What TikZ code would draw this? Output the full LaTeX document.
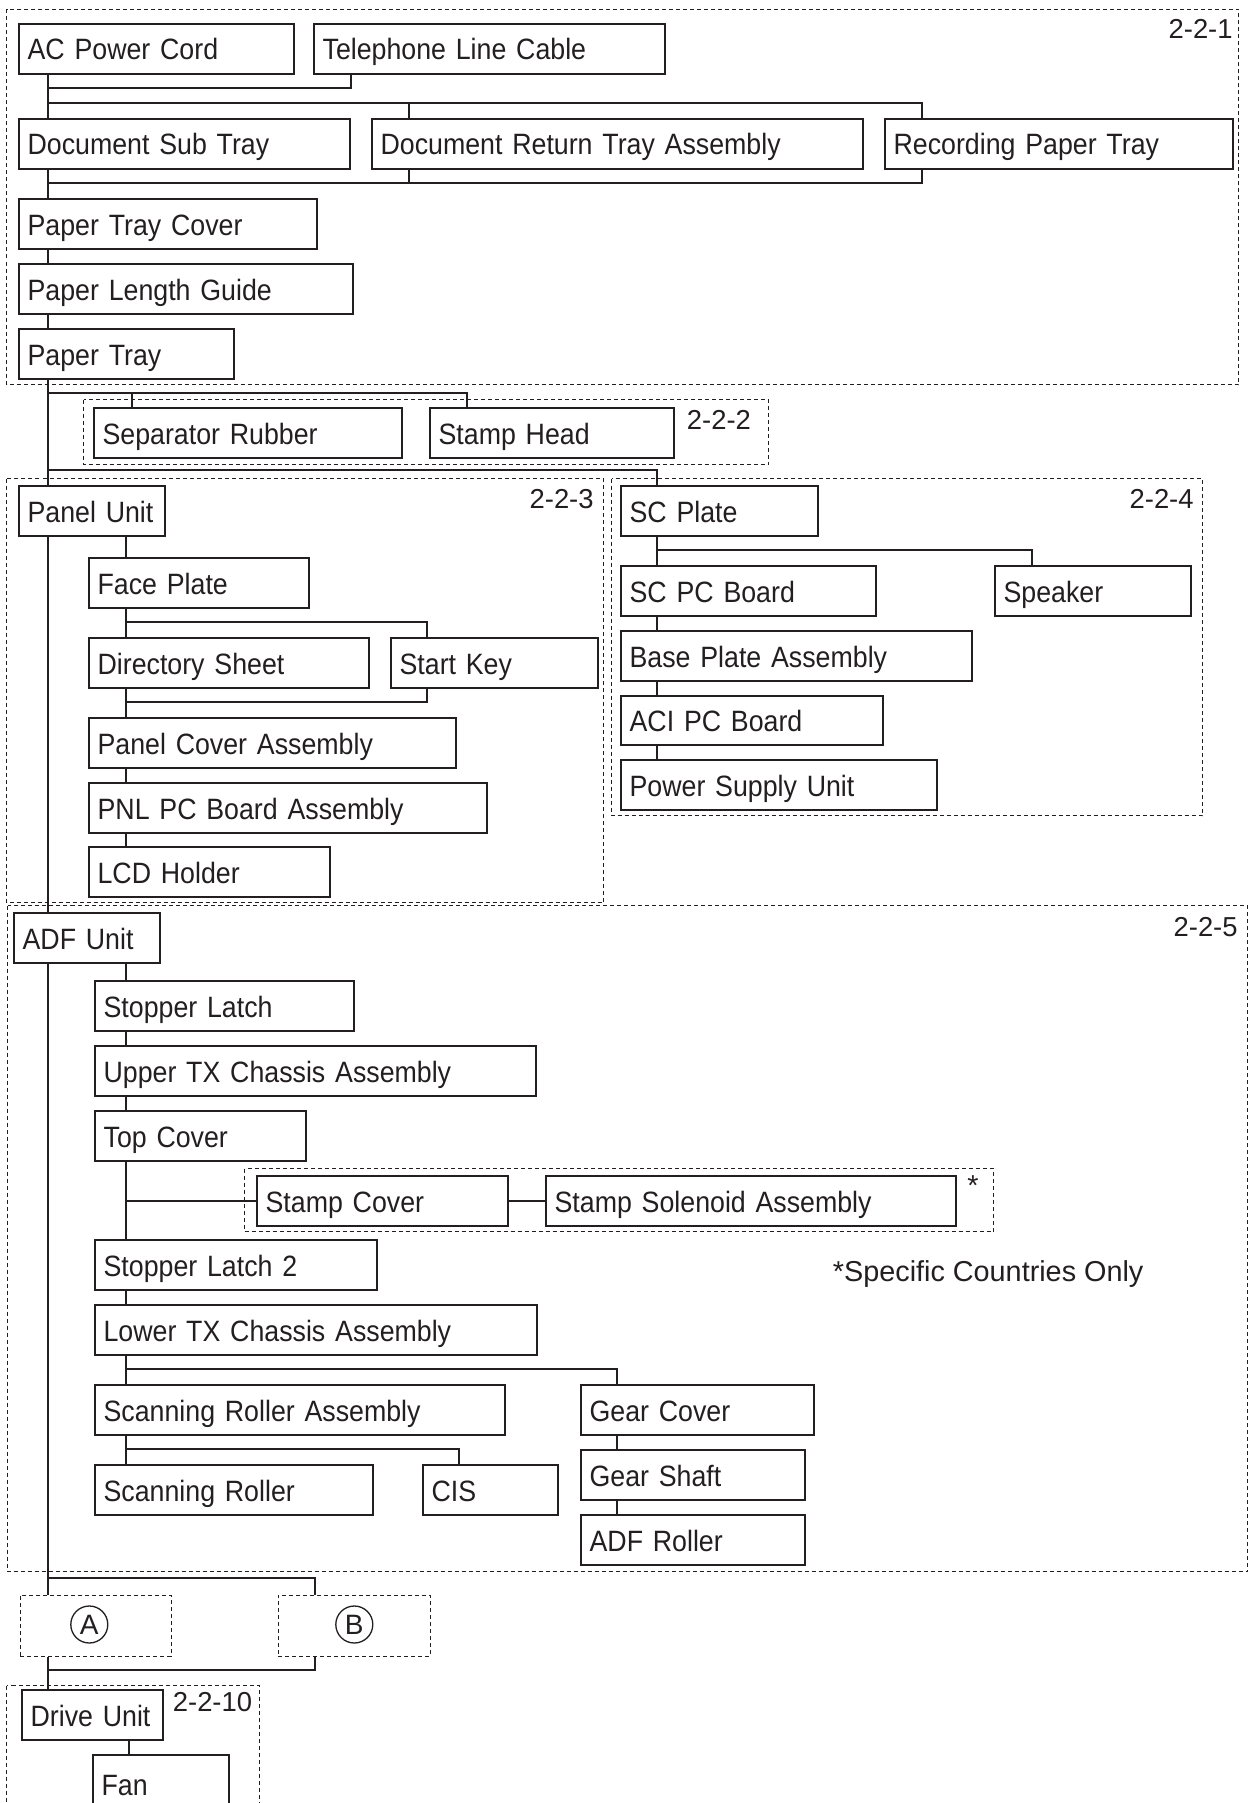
\documentclass[tikz,border=0pt]{standalone}
\usepackage{fontspec}
\setmainfont{Liberation Sans}
\newfontfamily\boxfont{Liberation Sans}[FakeStretch=0.91]
\definecolor{ink}{HTML}{231F20}
\tikzset{
  partbox/.style={draw=ink, line width=1pt, fill=white, anchor=north west,
    inner xsep=4.3pt, inner ysep=0pt, align=left, text=ink,
    font=\boxfont\fontsize{14.7pt}{16pt}\selectfont, text height=11pt, text depth=0pt},
  conn/.style={draw=ink, line width=1pt},
  grp/.style={draw=ink, line width=0.5pt, dash pattern=on 2pt off 1.5pt},
  grplabel/.style={inner sep=0pt, text=ink, font=\fontsize{13.7pt}{15pt}\selectfont},
  notetext/.style={inner sep=0pt, text=ink, font=\fontsize{14.4pt}{16pt}\selectfont},
  letter/.style={circle, draw=ink, line width=0.65pt, minimum size=18.5pt, inner sep=0pt,
    text=ink, font=\fontsize{14pt}{15pt}\selectfont},
}
\newcommand\partnode[6]{%
  \pgfmathsetmacro\pnw{(#4-#2)*0.5}%
  \pgfmathsetmacro\pnh{(#5-#3)*0.5}%
  \pgfmathsetmacro\pnt{\pnw-8.6}%
  \node[partbox, minimum width=\pnw pt, minimum height=\pnh pt, text width=\pnt pt] (#1) at (#2,#3) {\mbox{#6}};%
}
\begin{document}
\begin{tikzpicture}[x=0.5pt,y=-0.5pt]
\useasboundingbox (0,0) rectangle (1251,1803);
\fill[white] (0,0) rectangle (1251,1803);
\clip (0,0) rectangle (1251,1803);

% dashed groups
\draw[grp] (6.5,9.5) rectangle (1238.5,384.5);
\draw[grp] (83.5,399.5) rectangle (768.5,464.5);
\draw[grp] (6.5,478.5) rectangle (603.5,902.5);
\draw[grp] (611.5,478.5) rectangle (1202.5,815.5);
\draw[grp] (7.5,905.5) rectangle (1247.5,1571.5);
\draw[grp] (244.5,1168.5) rectangle (993.5,1231.5);
\draw[grp] (6.5,1685.5) rectangle (259.5,1815);

% group labels
\node[grplabel, anchor=base east] (l221) at (1233,38.3) {2-2-1};
\node[grplabel, anchor=base west] (l222) at (686.5,429) {2-2-2};
\node[grplabel, anchor=base east] (l223) at (594,508.4) {2-2-3};
\node[grplabel, anchor=base east] (l224) at (1194,508.3) {2-2-4};
\node[grplabel, anchor=base east] (l225) at (1238,936) {2-2-5};
\node[grplabel, anchor=base west] (l2210) at (172.5,1711.7) {2-2-10};
\node[notetext, anchor=base] (star) at (973,1195.6) {*};
\node[notetext, anchor=base west] (note) at (832.5,1281.7) {*Specific Countries Only};

% parts: name, left, top, right, bottom, text
\partnode{ac}{18}{23}{293}{73}{AC Power Cord}
\partnode{tlc}{313}{23}{664}{73}{Telephone Line Cable}
\partnode{dst}{18}{118}{349}{168}{Document Sub Tray}
\partnode{drt}{371}{118}{862}{168}{Document Return Tray Assembly}
\partnode{rpt}{884}{118}{1232}{168}{Recording Paper Tray}
\partnode{ptc}{18}{198}{316}{248}{Paper Tray Cover}
\partnode{plg}{18}{263}{352}{313}{Paper Length Guide}
\partnode{pt}{18}{328}{233}{378}{Paper Tray}
\partnode{sr}{93}{407}{401}{457}{Separator Rubber}
\partnode{sh}{429}{407}{673}{457}{Stamp Head}
\partnode{pu}{18}{485}{164}{535}{Panel Unit}
\partnode{fp}{88}{557}{308}{607}{Face Plate}
\partnode{ds}{88}{637}{368}{687}{Directory Sheet}
\partnode{sk}{390}{637}{597}{687}{Start Key}
\partnode{pca}{88}{717}{455}{767}{Panel Cover Assembly}
\partnode{pnl}{88}{782}{486}{832}{PNL PC Board Assembly}
\partnode{lcd}{88}{846}{329}{896}{LCD Holder}
\partnode{scp}{620}{485}{817}{535}{SC Plate}
\partnode{scpc}{620}{565}{875}{615}{SC PC Board}
\partnode{spk}{994}{565}{1190}{615}{Speaker}
\partnode{bpa}{620}{630}{971}{680}{Base Plate Assembly}
\partnode{aci}{620}{695}{882}{744}{ACI PC Board}
\partnode{psu}{620}{759}{936}{809}{Power Supply Unit}
\partnode{adf}{13}{912}{159}{962}{ADF Unit}
\partnode{sl}{94}{980}{353}{1030}{Stopper Latch}
\partnode{utx}{94}{1045}{535}{1095}{Upper TX Chassis Assembly}
\partnode{tc}{94}{1110}{305}{1160}{Top Cover}
\partnode{sc}{256}{1175}{507}{1225}{Stamp Cover}
\partnode{ssa}{545}{1175}{955}{1225}{Stamp Solenoid Assembly}
\partnode{sltwo}{94}{1239}{376}{1289}{Stopper Latch 2}
\partnode{ltx}{94}{1304}{536}{1354}{Lower TX Chassis Assembly}
\partnode{sra}{94}{1384}{504}{1434}{Scanning Roller Assembly}
\partnode{gc}{580}{1384}{813}{1434}{Gear Cover}
\partnode{srl}{94}{1464}{372}{1514}{Scanning Roller}
\partnode{cis}{422}{1464}{557}{1514}{CIS}
\partnode{gs}{580}{1449}{804}{1499}{Gear Shaft}
\partnode{adfr}{580}{1514}{804}{1564}{ADF Roller}
\partnode{du}{21}{1689}{162}{1739}{Drive Unit}
\partnode{fan}{92}{1754}{228}{1812}{Fan}

% A / B placeholders
\node[grp, anchor=north west, minimum width=75.5pt, minimum height=30.5pt, inner sep=0pt] (aa) at (19.5,1594.5) {};
\node[grp, anchor=north west, minimum width=76pt, minimum height=30.5pt, inner sep=0pt] (bb) at (277.5,1594.5) {};
\node[letter] (ca) at (89.3,1624.5) {A};
\node[letter] (cb) at (354.3,1624.5) {B};

% tracks
\coordinate (mainx) at (48,0);
\coordinate (subx) at (126,0);
\coordinate (tlcx) at (351,0);
\coordinate (drtx) at (409,0);
\coordinate (rptx) at (922,0);
\coordinate (srx) at (132,0);
\coordinate (shx) at (467,0);
\coordinate (scpx) at (657,0);
\coordinate (skx) at (427,0);
\coordinate (spkx) at (1032,0);
\coordinate (gcx) at (617,0);
\coordinate (cisx) at (459,0);
\coordinate (bx) at (315,0);
\coordinate (dux) at (129,0);
\coordinate (ya) at (0,88);
\coordinate (yb) at (0,103);
\coordinate (yc) at (0,183);
\coordinate (yd) at (0,393);
\coordinate (ye) at (0,470);
\coordinate (yf) at (0,622);
\coordinate (yg) at (0,702);
\coordinate (yh) at (0,550);
\coordinate (yi) at (0,1369);
\coordinate (yj) at (0,1449);
\coordinate (yk) at (0,1578);
\coordinate (yl) at (0,1670);

% connectors: top section
\draw[conn] (ac.south -| mainx) -- (dst.north -| mainx);
\draw[conn] (tlc.south -| tlcx) |- (mainx |- ya);
\draw[conn] (mainx |- yb) -| (rpt.north -| rptx);
\draw[conn] (drt.north -| drtx) -- (drtx |- yb);
\draw[conn] (dst.south -| mainx) -- (ptc.north -| mainx);
\draw[conn] (mainx |- yc) -| (rpt.south -| rptx);
\draw[conn] (drt.south -| drtx) -- (drtx |- yc);
\draw[conn] (ptc.south -| mainx) -- (plg.north -| mainx);
\draw[conn] (plg.south -| mainx) -- (pt.north -| mainx);
\draw[conn] (pt.south -| mainx) -- (pu.north -| mainx);
\draw[conn] (mainx |- yd) -| (sh.north -| shx);
\draw[conn] (srx |- yd) -- (sr.north -| srx);
\draw[conn] (mainx |- ye) -| (scp.north -| scpx);
% panel unit
\draw[conn] (pu.south -| mainx) -- (adf.north -| mainx);
\draw[conn] (pu.south -| subx) -- (fp.north -| subx);
\draw[conn] (fp.south -| subx) -- (ds.north -| subx);
\draw[conn] (subx |- yf) -| (sk.north -| skx);
\draw[conn] (ds.south -| subx) -- (pca.north -| subx);
\draw[conn] (subx |- yg) -| (sk.south -| skx);
\draw[conn] (pca.south -| subx) -- (pnl.north -| subx);
\draw[conn] (pnl.south -| subx) -- (lcd.north -| subx);
% SC plate
\draw[conn] (scp.south -| scpx) -- (scpc.north -| scpx);
\draw[conn] (scpx |- yh) -| (spk.north -| spkx);
\draw[conn] (scpc.south -| scpx) -- (bpa.north -| scpx);
\draw[conn] (bpa.south -| scpx) -- (aci.north -| scpx);
\draw[conn] (aci.south -| scpx) -- (psu.north -| scpx);
% ADF unit
\draw[conn] (adf.south -| subx) -- (sl.north -| subx);
\draw[conn] (sl.south -| subx) -- (utx.north -| subx);
\draw[conn] (utx.south -| subx) -- (tc.north -| subx);
\draw[conn] (tc.south -| subx) -- (sltwo.north -| subx);
\draw[conn] (subx |- sc.west) -- (sc.west);
\draw[conn] (sc.east) -- (ssa.west);
\draw[conn] (sltwo.south -| subx) -- (ltx.north -| subx);
\draw[conn] (ltx.south -| subx) -- (sra.north -| subx);
\draw[conn] (subx |- yi) -| (gc.north -| gcx);
\draw[conn] (sra.south -| subx) -- (srl.north -| subx);
\draw[conn] (subx |- yj) -| (cis.north -| cisx);
\draw[conn] (gc.south -| gcx) -- (gs.north -| gcx);
\draw[conn] (gs.south -| gcx) -- (adfr.north -| gcx);
% bottom
\draw[conn] (adf.south -| mainx) -- (aa.north -| mainx);
\draw[conn] (mainx |- yk) -| (bb.north -| bx);
\draw[conn] (aa.south -| mainx) -- (du.north -| mainx);
\draw[conn] (bb.south -| bx) |- (mainx |- yl);
\draw[conn] (du.south -| dux) -- (fan.north -| dux);
\end{tikzpicture}
\end{document}
